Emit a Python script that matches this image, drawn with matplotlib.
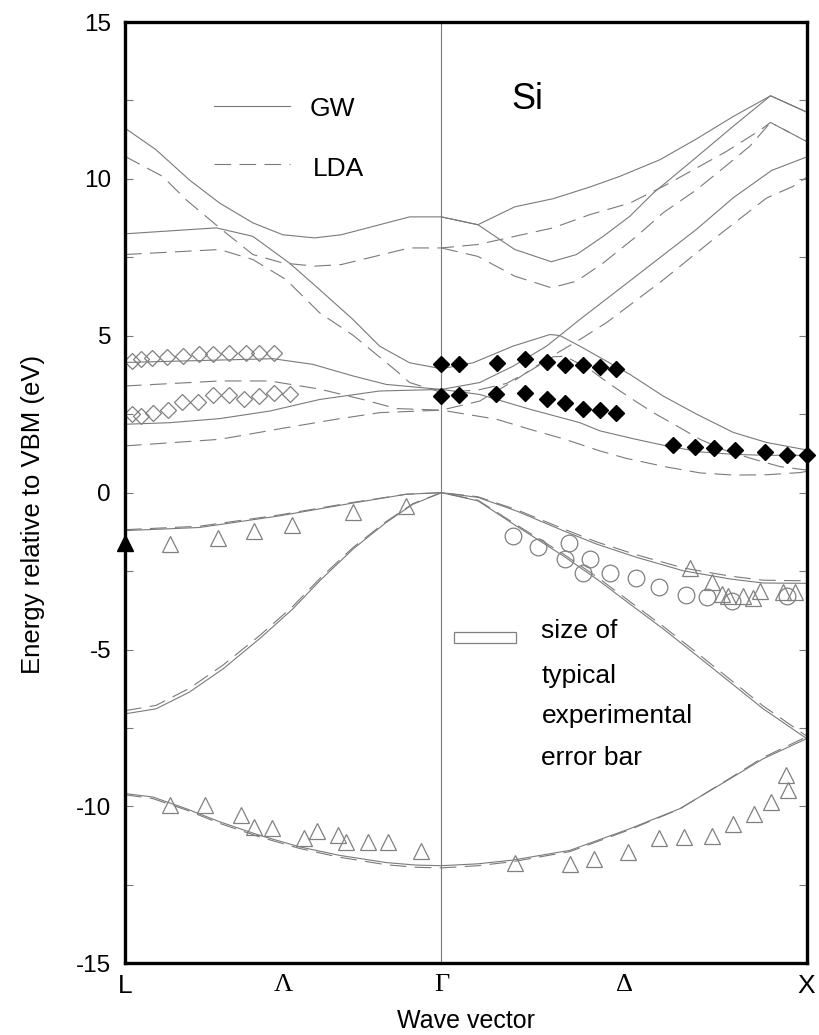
import matplotlib
matplotlib.use("Agg")
import matplotlib.pyplot as plt
from matplotlib.patches import Rectangle

# wave vector: L = -0.866, Gamma = 0, X = 1 (units of 2pi/a); energies in eV
gw_band1 = [(-0.866, -9.59), (-0.790, -9.70), (-0.699, -10.07), (-0.607, -10.49), (-0.498, -10.92),
            (-0.388, -11.29), (-0.279, -11.56), (-0.151, -11.79), (-0.070, -11.87), (0.0, -11.89),
            (0.100, -11.83), (0.196, -11.71), (0.352, -11.40), (0.516, -10.71), (0.653, -10.07),
            (0.790, -9.12), (0.881, -8.48), (1.0, -7.84)]
gw_band2 = [(-0.866, -7.05), (-0.781, -6.89), (-0.690, -6.36), (-0.598, -5.62), (-0.498, -4.66),
            (-0.407, -3.71), (-0.333, -2.81), (-0.242, -1.80), (-0.151, -0.95), (-0.078, -0.37),
            (0.0, 0.0), (0.100, -0.26), (0.205, -1.06), (0.333, -2.01), (0.425, -2.75), (0.516, -3.55),
            (0.607, -4.34), (0.699, -5.19), (0.790, -6.04), (0.881, -6.89), (1.0, -7.84)]
gw_band3 = [(-0.866, -1.21), (-0.662, -1.11), (-0.443, -0.74), (-0.242, -0.33), (-0.096, -0.05),
            (0.0, 0.0), (0.100, -0.15), (0.205, -0.58), (0.333, -1.21), (0.425, -1.64), (0.534, -2.06),
            (0.662, -2.49), (0.790, -2.75), (0.881, -2.88), (1.0, -2.89)]
gw_band4 = [(-0.866, 2.18), (-0.744, 2.23), (-0.607, 2.36), (-0.470, 2.60), (-0.333, 2.97),
            (-0.169, 3.24), (0.0, 3.29), (0.105, 3.13), (0.242, 2.66), (0.379, 2.23), (0.434, 1.97),
            (0.525, 1.72), (0.616, 1.49), (0.708, 1.30), (0.799, 1.22), (0.890, 1.19), (1.0, 1.19)]
gw_band5 = [(-0.866, 4.15), (-0.461, 4.27), (-0.352, 4.09), (-0.242, 3.72), (-0.151, 3.45),
            (0.0, 3.29), (0.105, 3.51), (0.196, 4.03), (0.288, 4.67), (0.379, 5.52), (0.516, 6.75),
            (0.699, 8.40), (0.799, 9.40), (0.904, 10.27), (1.0, 10.70)]
gw_band6 = [(-0.866, 8.25), (-0.616, 8.44), (-0.516, 8.17), (-0.416, 7.32), (-0.333, 6.47),
            (-0.242, 5.52), (-0.169, 4.67), (-0.087, 4.14), (0.0, 3.95), (0.087, 4.14), (0.196, 4.67),
            (0.297, 5.04), (0.324, 5.01), (0.379, 4.67), (0.443, 4.25), (0.516, 3.77), (0.607, 3.08),
            (0.699, 2.50), (0.799, 1.92), (0.890, 1.60), (1.0, 1.36)]
gw_band7 = [(-0.866, 11.62), (-0.781, 10.93), (-0.690, 9.97), (-0.607, 9.23), (-0.516, 8.60),
            (-0.434, 8.22), (-0.347, 8.12), (-0.274, 8.22), (-0.087, 8.79), (0.0, 8.79), (0.100, 8.54),
            (0.201, 7.75), (0.301, 7.36), (0.370, 7.59), (0.443, 8.17), (0.516, 8.81), (0.580, 9.55),
            (0.699, 10.70), (0.799, 11.68), (0.901, 12.65), (1.0, 12.13)]
gw_band8 = [(0.0, 8.79), (0.100, 8.54), (0.201, 9.11), (0.306, 9.37), (0.406, 9.74), (0.488, 10.08),
            (0.598, 10.61), (0.699, 11.28), (0.799, 11.99), (0.901, 12.65), (1.0, 12.13)]

lda_band1 = [(-0.866, -9.63), (-0.790, -9.75), (-0.699, -10.11), (-0.607, -10.54), (-0.498, -10.97),
             (-0.388, -11.34), (-0.279, -11.62), (-0.151, -11.86), (-0.070, -11.94), (0.0, -11.96),
             (0.100, -11.89), (0.196, -11.76), (0.352, -11.44), (0.516, -10.74), (0.653, -10.08),
             (0.790, -9.10), (0.881, -8.44), (1.0, -7.78)]
lda_band2 = [(-0.866, -6.95), (-0.781, -6.78), (-0.690, -6.24), (-0.598, -5.50), (-0.498, -4.56),
             (-0.407, -3.63), (-0.333, -2.74), (-0.242, -1.75), (-0.151, -0.92), (-0.078, -0.35),
             (0.0, 0.0), (0.100, -0.24), (0.205, -1.02), (0.333, -1.95), (0.425, -2.68), (0.516, -3.47),
             (0.607, -4.26), (0.699, -5.10), (0.790, -5.95), (0.881, -6.80), (1.0, -7.76)]
lda_band3 = [(-0.866, -1.18), (-0.662, -1.07), (-0.443, -0.71), (-0.242, -0.31), (-0.096, -0.05),
             (0.0, 0.0), (0.100, -0.13), (0.205, -0.54), (0.333, -1.15), (0.425, -1.57), (0.534, -1.98),
             (0.662, -2.40), (0.790, -2.66), (0.881, -2.79), (1.0, -2.81)]
lda_band4 = [(-0.866, 1.49), (-0.607, 1.70), (-0.425, 2.07), (-0.288, 2.34), (-0.169, 2.55),
             (0.0, 2.63), (0.068, 2.50), (0.151, 2.34), (0.242, 2.02), (0.333, 1.72), (0.434, 1.33),
             (0.507, 1.09), (0.616, 0.82), (0.708, 0.63), (0.799, 0.56), (0.890, 0.57), (0.982, 0.64),
             (1.0, 0.68)]
lda_band5 = [(-0.866, 3.40), (-0.607, 3.56), (-0.470, 3.56), (-0.333, 3.30), (-0.215, 2.97),
             (-0.123, 2.68), (0.0, 2.63), (0.105, 2.92), (0.205, 3.61), (0.288, 4.25), (0.379, 4.88),
             (0.452, 5.42), (0.607, 6.78), (0.744, 8.07), (0.890, 9.39), (0.962, 9.76), (1.0, 10.05)]
lda_band6 = [(-0.866, 7.59), (-0.607, 7.75), (-0.516, 7.43), (-0.425, 6.79), (-0.333, 5.73),
             (-0.242, 5.02), (-0.196, 4.58), (-0.123, 3.88), (-0.087, 3.51), (0.0, 3.20), (0.100, 3.27),
             (0.178, 3.48), (0.242, 3.88), (0.306, 4.33), (0.338, 4.35), (0.406, 3.93), (0.465, 3.43),
             (0.516, 3.03), (0.580, 2.55), (0.644, 2.13), (0.708, 1.70), (0.781, 1.33), (0.854, 1.07),
             (0.927, 0.83), (1.0, 0.72)]
lda_band7 = [(-0.866, 10.72), (-0.763, 10.08), (-0.699, 9.34), (-0.607, 8.44), (-0.516, 7.59),
             (-0.434, 7.32), (-0.347, 7.22), (-0.274, 7.27), (-0.087, 7.80), (0.0, 7.80), (0.100, 7.91),
             (0.201, 8.17), (0.306, 8.44), (0.406, 8.86), (0.516, 9.23), (0.607, 9.76), (0.699, 10.35),
             (0.781, 10.88), (0.872, 11.55), (0.901, 11.80), (1.0, 11.19)]
lda_band8 = [(0.0, 7.80), (0.100, 7.53), (0.201, 6.90), (0.301, 6.53), (0.370, 6.74), (0.443, 7.32),
             (0.534, 8.17), (0.607, 8.92), (0.699, 9.66), (0.772, 10.35), (0.845, 11.05), (0.901, 11.80),
             (1.0, 11.19)]

gw_bands = [gw_band1, gw_band2, gw_band3, gw_band4, gw_band5, gw_band6, gw_band7, gw_band8]
lda_bands = [lda_band1, lda_band2, lda_band3, lda_band4, lda_band5, lda_band6, lda_band7, lda_band8]

# experiment
tri_k = [-0.742, -0.646, -0.548, -0.513, -0.463, -0.375, -0.341, -0.283, -0.262, -0.200, -0.146, -0.055,
         0.201, 0.352, 0.417, 0.511, 0.595, 0.664, 0.740, 0.799, 0.856, 0.901, 0.943, 0.950,
         -0.742, -0.611, -0.513, -0.410, -0.242, -0.096,
         0.680, 0.740, 0.767, 0.785, 0.826, 0.852, 0.872, 0.936, 0.968]
tri_e = [-9.96, -9.96, -10.26, -10.65, -10.68, -11.02, -10.79, -10.92, -11.13, -11.13, -11.13, -11.43,
         -11.80, -11.84, -11.68, -11.45, -11.02, -10.99, -10.94, -10.55, -10.23, -9.86, -8.99, -9.49,
         -1.64, -1.46, -1.21, -1.03, -0.63, -0.42,
         -2.41, -2.86, -3.23, -3.28, -3.28, -3.37, -3.12, -3.18, -3.18]
circ_k = [0.195, 0.265, 0.350, 0.338, 0.406, 0.388, 0.461, 0.534, 0.596, 0.669, 0.726, 0.795, 0.947]
circ_e = [-1.39, -1.74, -1.62, -2.12, -2.12, -2.56, -2.56, -2.73, -3.02, -3.25, -3.32, -3.44, -3.28]
odia_k = [-0.847, -0.822, -0.793, -0.752, -0.708, -0.662, -0.624, -0.582, -0.536, -0.500, -0.459,
          -0.847, -0.822, -0.790, -0.749, -0.710, -0.667, -0.624, -0.582, -0.539, -0.500, -0.457, -0.414]
odia_e = [4.19, 4.27, 4.30, 4.33, 4.37, 4.41, 4.41, 4.46, 4.44, 4.44, 4.46,
          2.50, 2.44, 2.53, 2.63, 2.89, 2.89, 3.10, 3.10, 3.00, 3.08, 3.19, 3.13]
fdia_k = [0.0, 0.047, 0.151, 0.230, 0.288, 0.338, 0.388, 0.434, 0.479,
          0.0, 0.047, 0.149, 0.230, 0.288, 0.338, 0.388, 0.434, 0.479,
          0.633, 0.694, 0.747, 0.804, 0.886, 0.945, 1.0]
fdia_e = [4.09, 4.09, 4.14, 4.25, 4.17, 4.07, 4.07, 4.02, 3.95,
          3.08, 3.10, 3.13, 3.17, 2.97, 2.87, 2.68, 2.63, 2.53,
          1.52, 1.44, 1.41, 1.35, 1.31, 1.19, 1.19]
ftri_k = [-0.866]
ftri_e = [-1.60]

kpoints = [-0.866, -0.433, 0.0, 0.5, 1.0]
klabels = ["L", "Λ", "Γ", "Δ", "X"]

plt.rcParams["font.family"] = ["Liberation Sans", "DejaVu Sans"]
plt.rcParams["lines.scale_dashes"] = False
plt.rcParams["axes.unicode_minus"] = False

fig = plt.figure(figsize=(8.2, 10.35), dpi=100)
ax = fig.add_axes([0.1524, 0.0693, 0.8314, 0.9094])

grey = "#7a7a7a"
for band in gw_bands:
    k, e = zip(*band)
    ax.plot(k, e, color=grey, lw=0.8)
for band in lda_bands:
    k, e = zip(*band)
    ax.plot(k, e, color=grey, lw=0.8, ls=(0, (12, 6)))

ax.axvline(0, color=grey, lw=0.8)

mgrey = "#808080"
ax.plot(tri_k, tri_e, ls="none", marker="^", ms=12, mfc="none", mec=mgrey, mew=0.9)
ax.plot(circ_k, circ_e, ls="none", marker="o", ms=12, mfc="none", mec=mgrey, mew=0.9)
ax.plot(odia_k, odia_e, ls="none", marker="D", ms=8.5, mfc="none", mec=mgrey, mew=0.9)
ax.plot(fdia_k, fdia_e, ls="none", marker="D", ms=8.5, mfc="black", mec="black", clip_on=False, zorder=5)
ax.plot(ftri_k, ftri_e, ls="none", marker="^", ms=12, mfc="black", mec="black", clip_on=False, zorder=5)

# legend
ax.plot([-0.621, -0.414], [12.33, 12.33], color=grey, lw=0.8)
ax.plot([-0.621, -0.414], [10.47, 10.47], color=grey, lw=0.8, ls=(0, (12, 6)))
ax.text(-0.36, 12.0, "GW", fontsize=19, va="baseline")
ax.text(-0.352, 10.08, "LDA", fontsize=19, va="baseline")
ax.text(0.192, 12.22, "Si", fontsize=26, va="baseline")

ax.add_patch(Rectangle((0.035, -4.79), 0.168, 0.34, fill=False, ec=mgrey, lw=0.9))
for txt, y in zip(["size of", "typical", "experimental", "error bar"], [-4.64, -6.06, -7.34, -8.67]):
    ax.text(0.274, y, txt, fontsize=19, va="baseline")

ax.set_xlim(-0.866, 1.0)
ax.set_ylim(-15, 15)
ax.set_yticks([-15, -10, -5, 0, 5, 10, 15])
ax.set_yticks([-12.5, -7.5, -2.5, 2.5, 7.5, 12.5], minor=True)
ax.tick_params(axis="y", which="both", direction="in", length=6, color=grey, width=0.8,
               right=True, labelsize=17.5, pad=10)
ax.set_xticks(kpoints)
ax.set_xticklabels(klabels)
ax.tick_params(axis="x", length=0, labelsize=19, pad=8)
for lab in ax.get_xticklabels():
    if lab.get_text() in ("Λ", "Γ", "Δ"):
        lab.set_fontfamily(["Liberation Serif", "DejaVu Serif"])

for s in ax.spines.values():
    s.set_linewidth(2.4)

ax.set_xlabel("Wave vector", fontsize=18, labelpad=8)
ax.set_ylabel("Energy relative to VBM (eV)", fontsize=18.5)
ax.yaxis.set_label_coords(-0.118, 0.477)

fig.savefig("out.png", dpi=100)
